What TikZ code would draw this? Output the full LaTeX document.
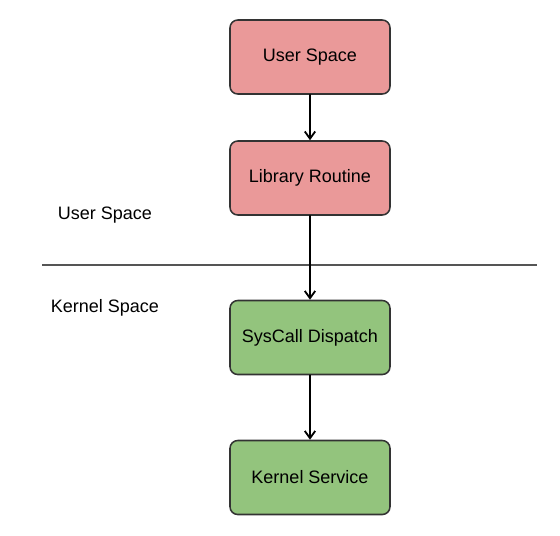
\documentclass[tikz,border=0pt]{standalone}
\usepackage{fontspec}
\setmainfont{Liberation Sans}
\usetikzlibrary{arrows.meta,positioning}
\definecolor{userfill}{HTML}{EA9999}
\definecolor{kernfill}{HTML}{93C47D}
\definecolor{boxline}{HTML}{333333}
\definecolor{sepline}{HTML}{555555}
\tikzset{%
       stage/.style = { draw=boxline, line width=1.1pt, rounded corners=5.5pt,
                        minimum width=160*0.025cm, minimum height=74*0.025cm,
                        inner sep=0pt, font=\fontsize{12.8}{15}\selectfont },
   userstage/.style = { stage, fill=userfill },
   kernstage/.style = { stage, fill=kernfill },
   spacelabel/.style = { font=\fontsize{12.8}{15}\selectfont },
        flow/.style = { line width=1.3pt, -{Straight Barb[length=1.8mm,width=2.6mm,line width=1.3pt]} }
}
\begin{document}
\begin{tikzpicture}[x=0.025cm,y=-0.025cm,line cap=round,line join=round]
\useasboundingbox (0,0) rectangle (560,535);
% boxes
\node [userstage] (user) at (310,57) {User Space};
\node [userstage] (lib) at (310,178) {Library Routine};
\node [kernstage] (dispatch) at (310,337.5) {SysCall Dispatch};
\node [kernstage] (service) at (310,477.5) {Kernel Service};
% separator between the two spaces
\coordinate (sepleft) at (42,265);
\coordinate (sepright) at (537,265);
\draw [sepline, line width=1.5pt, line cap=butt] (sepleft) -- (sepright);
\node [spacelabel] (userlbl) at (105,215) {User Space};
\node [spacelabel] (kernlbl) at (105,308) {Kernel Space};
% calls
\draw [flow] (user) -- (lib);
\draw [flow] (lib) -- (dispatch);
\draw [flow] (dispatch) -- (service);
\end{tikzpicture}
\end{document}
